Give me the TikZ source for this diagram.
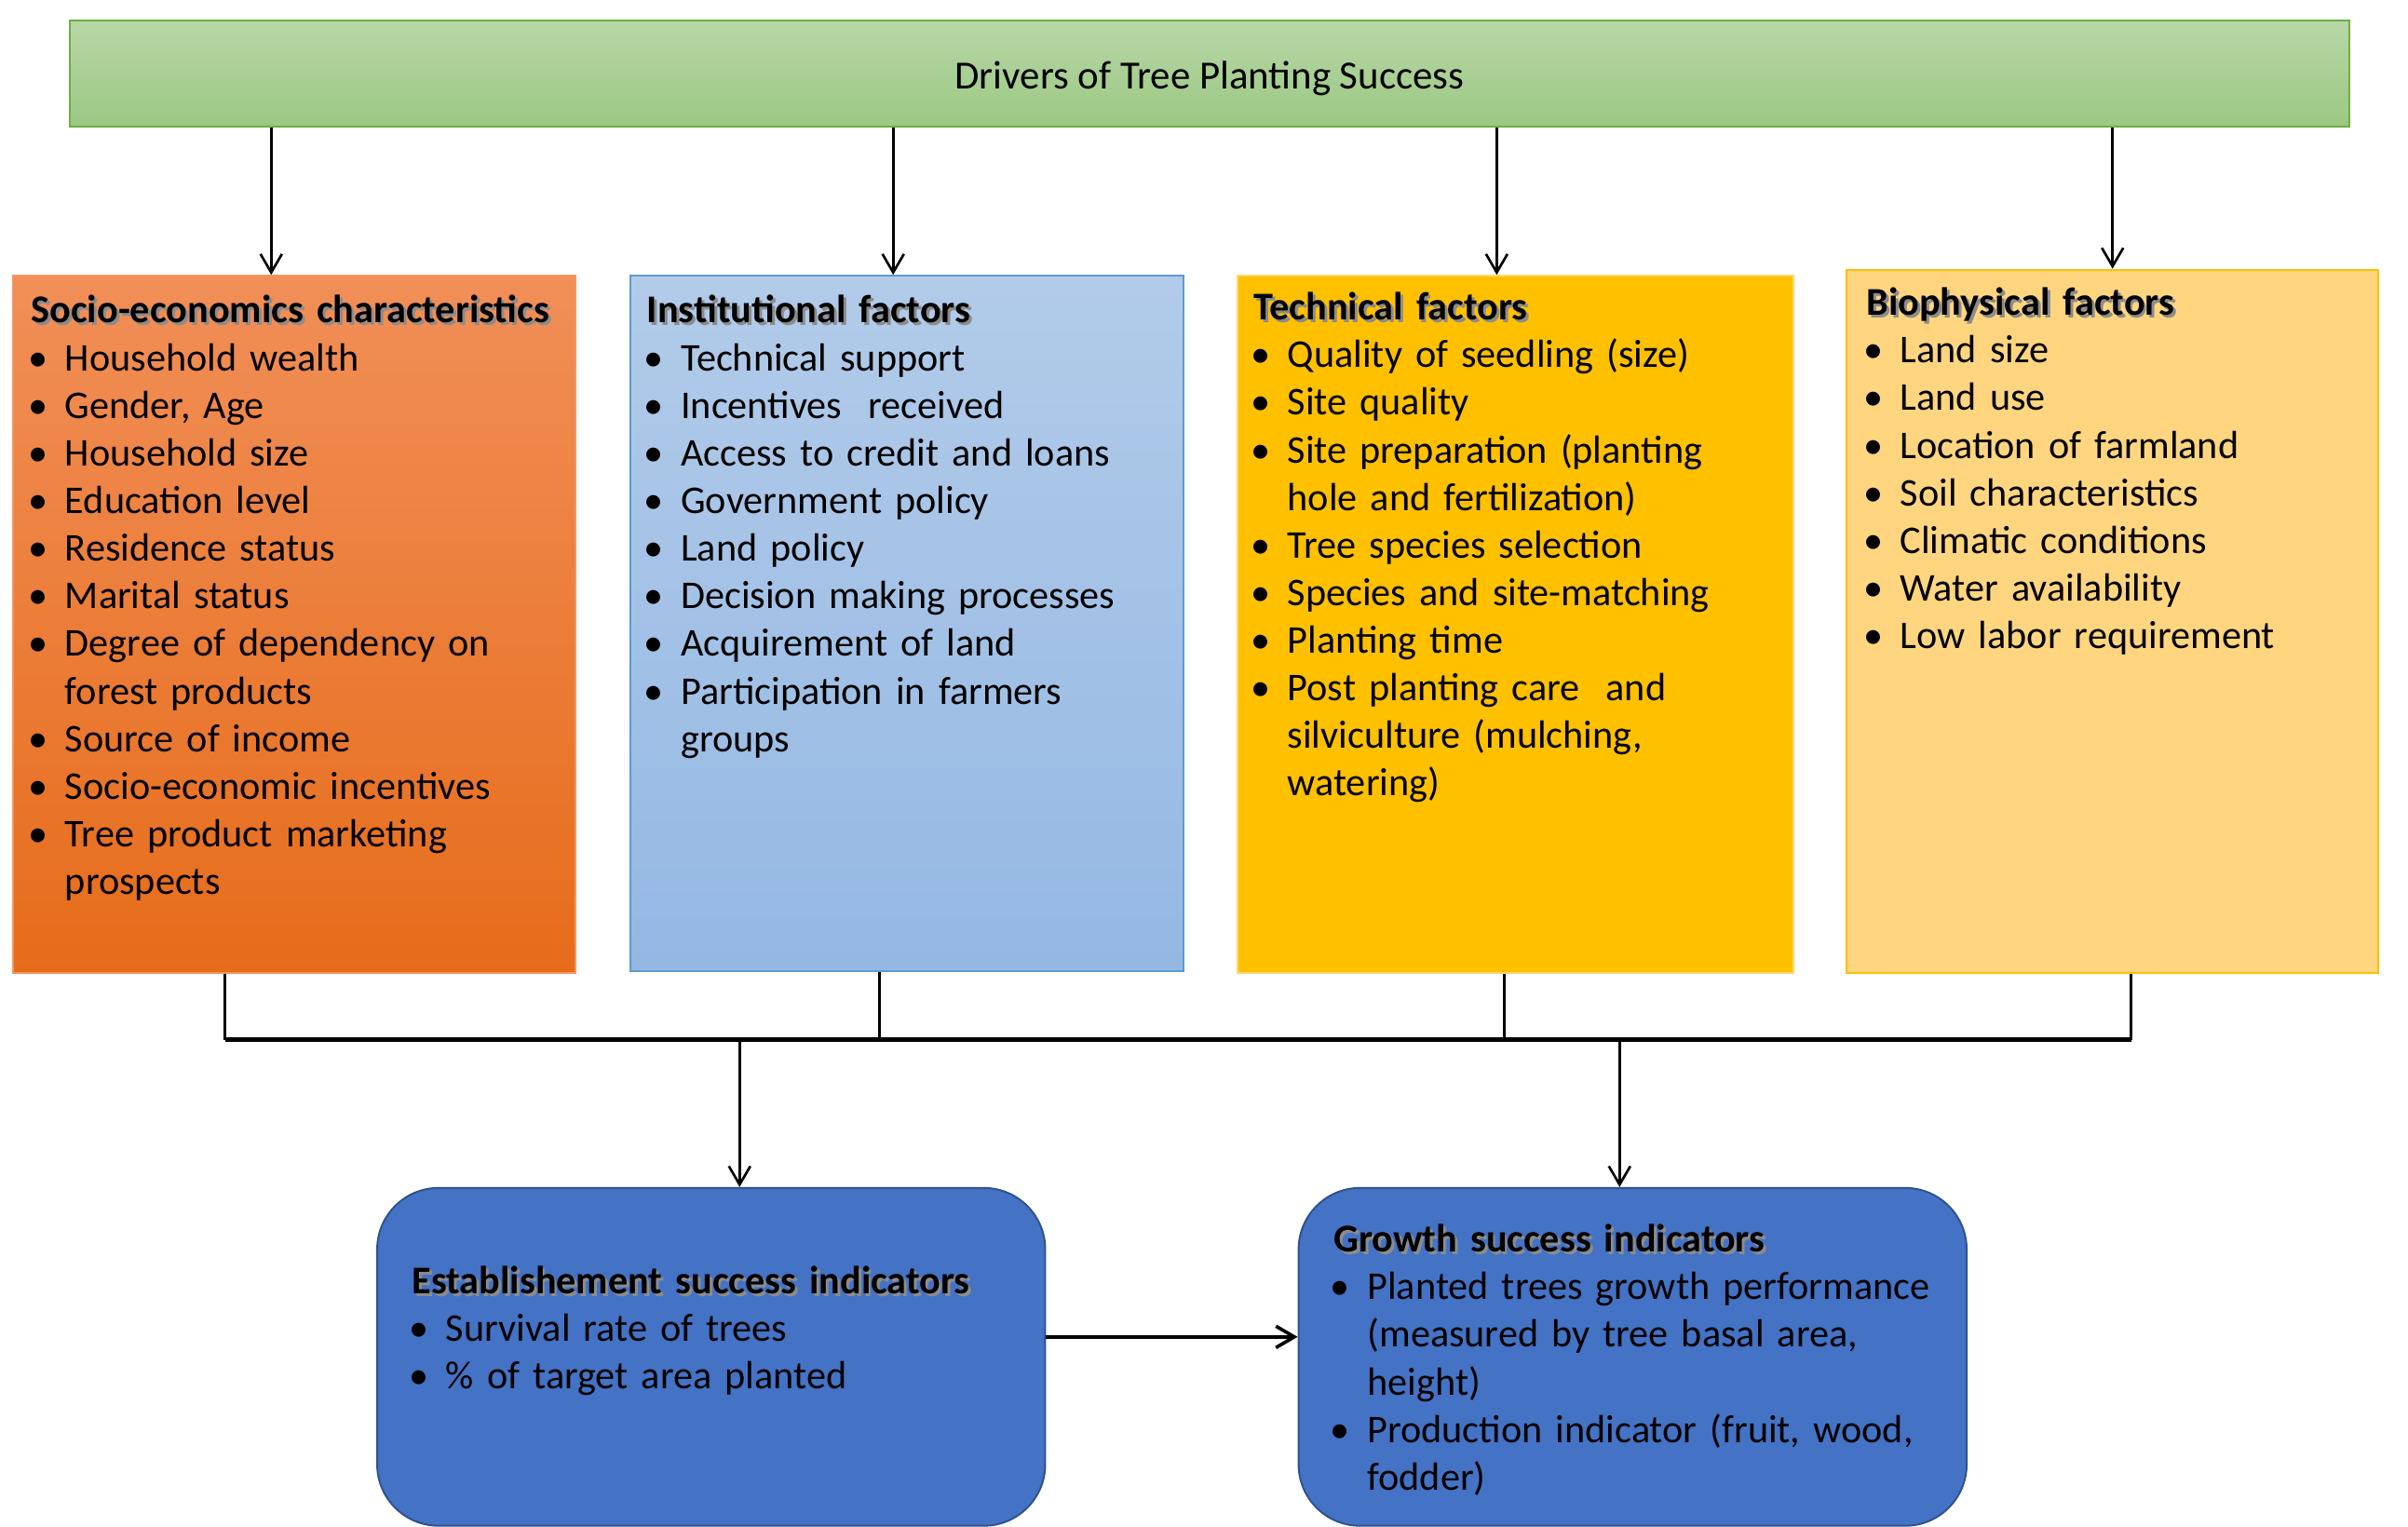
\documentclass[tikz,border=0pt]{standalone}
\usepackage{fontspec}
\setmainfont{Carlito}
\usetikzlibrary{arrows.meta,positioning}

\definecolor{drvTop}{RGB}{184,215,167}
\definecolor{drvBottom}{RGB}{155,200,130}
\definecolor{drvLine}{RGB}{112,173,71}
\definecolor{socTop}{RGB}{241,143,88}
\definecolor{socBottom}{RGB}{230,108,26}
\definecolor{socLine}{RGB}{240,150,100}
\definecolor{insTop}{RGB}{178,203,233}
\definecolor{insBottom}{RGB}{148,184,227}
\definecolor{insLine}{RGB}{91,155,213}
\definecolor{tecFill}{RGB}{255,192,0}
\definecolor{tecLine}{RGB}{255,215,110}
\definecolor{bioFill}{RGB}{255,213,128}
\definecolor{bioLine}{RGB}{255,192,0}
\definecolor{indFill}{RGB}{68,114,196}
\definecolor{indLine}{RGB}{47,82,143}

\setlength{\parskip}{0pt}
\setlength{\parindent}{0pt}
% bold heading with a soft drop shadow
\newcommand{\hdr}[1]{\noindent\makebox[0pt][l]{\hspace{0.9pt}\raisebox{-0.9pt}{\textcolor{black!45}{\bfseries #1}}}{\bfseries #1}\par}
% bullet item, wrapped lines hang under the text
\newcommand{\bitem}[1]{\noindent\hangindent=11pt\relax\hangafter=1\relax\makebox[11pt][l]{\hspace{-1pt}\textbullet}#1\par}
\newcommand{\bodyfont}{\fontsize{12.8pt}{15.5pt}\selectfont}
\newcommand{\titlefont}{\fontsize{13pt}{15pt}\selectfont}

\begin{document}
\begin{tikzpicture}[x=0.5pt,y=-0.5pt,
    box/.style={draw, line width=0.6pt, anchor=north west, inner sep=0pt},
    txt/.style={anchor=north west, inner sep=0pt, text width=#1, align=left, font=\bodyfont},
    arr/.style={-{Straight Barb[length=6pt,width=7pt]}, line width=0.8pt},
    link/.style={line width=0.8pt}]

    \useasboundingbox[fill=white] (0,0) rectangle (1568,994);

    % top driver bar
    \node[box, draw=drvLine, top color=drvTop, bottom color=drvBottom,
        minimum width=742pt, minimum height=34.5pt, font=\titlefont,
        text height=11pt, text depth=1pt] (drivers) at (45,13)
        {Drivers of Tree Planting Success};

    % factor groups
    \node[box, draw=socLine, top color=socTop, bottom color=socBottom,
        minimum width=183pt, minimum height=227pt] (socio) at (8,179) {};
    \node[box, draw=insLine, top color=insTop, bottom color=insBottom,
        minimum width=180pt, minimum height=226.5pt] (inst) at (410,179) {};
    \node[box, draw=tecLine, fill=tecFill,
        minimum width=181pt, minimum height=227pt] (tech) at (805,179) {};
    \node[box, draw=bioLine, fill=bioFill,
        minimum width=173pt, minimum height=229pt] (bio) at (1202,175) {};

    \node[txt=180pt] (socioT) at ([shift={(6pt,-6.5pt)}]socio.north west) {%
        \hdr{Socio-economics characteristics}
        \bitem{Household wealth}
        \bitem{Gender, Age}
        \bitem{Household size}
        \bitem{Education level}
        \bitem{Residence status}
        \bitem{Marital status}
        \bitem{Degree of dependency on\newline forest products}
        \bitem{Source of income}
        \bitem{Socio-economic incentives}
        \bitem{Tree product marketing\newline prospects}};
    \node[txt=176pt] (instT) at ([shift={(5.5pt,-6.5pt)}]inst.north west) {%
        \hdr{Institutional factors}
        \bitem{Technical support}
        \bitem{Incentives\ \ received}
        \bitem{Access to credit and loans}
        \bitem{Government policy}
        \bitem{Land policy}
        \bitem{Decision making processes}
        \bitem{Acquirement of land}
        \bitem{Participation in farmers\newline groups}};
    \node[txt=178pt] (techT) at ([shift={(5.5pt,-5.5pt)}]tech.north west) {%
        \hdr{Technical factors}
        \bitem{Quality of seedling (size)}
        \bitem{Site quality}
        \bitem{Site preparation (planting\newline hole and fertilization)}
        \bitem{Tree species selection}
        \bitem{Species and site-matching}
        \bitem{Planting time}
        \bitem{Post planting care\ \ and\newline silviculture (mulching,\newline watering)}};
    \node[txt=170pt] (bioT) at ([shift={(6.5pt,-6pt)}]bio.north west) {%
        \hdr{Biophysical factors}
        \bitem{Land size}
        \bitem{Land use}
        \bitem{Location of farmland}
        \bitem{Soil characteristics}
        \bitem{Climatic conditions}
        \bitem{Water availability}
        \bitem{Low labor requirement}};

    % success indicators
    \node[box, draw=indLine, fill=indFill, rounded corners=20pt,
        minimum width=217.5pt, minimum height=110pt] (estab) at (245,773) {};
    \node[box, draw=indLine, fill=indFill, rounded corners=20pt,
        minimum width=217.5pt, minimum height=110pt] (growth) at (845,773) {};

    \node[txt=200pt] (estabT) at ([shift={(11.5pt,-25.5pt)}]estab.north west) {%
        \hdr{Establishement success indicators}
        \bitem{Survival rate of trees}
        \bitem{\% of target area planted}};
    \node[txt=205pt] (growthT) at ([shift={(11.5pt,-12pt)}]growth.north west) {%
        \hdr{Growth success indicators}
        \bitem{Planted trees growth performance\newline (measured by tree basal area,\newline height)}
        \bitem{Production indicator (fruit, wood,\newline fodder)}};

    % drivers down to each group
    \draw[arr] ([xshift=-7.5pt]socio.north |- drivers.south) -- ([xshift=-7.5pt]socio.north);
    \draw[arr] ([xshift=-4.5pt]inst.north |- drivers.south) -- ([xshift=-4.5pt]inst.north);
    \draw[arr] ([xshift=-6pt]tech.north |- drivers.south) -- ([xshift=-6pt]tech.north);
    \draw[arr] (bio.north |- drivers.south) -- (bio.north);

    % groups join on one line
    \coordinate (bus) at (0,677);
    \draw[link] ([xshift=-22.5pt]socio.south) -- ([xshift=-22.5pt]socio.south |- bus);
    \draw[link] ([xshift=-9pt]inst.south) -- ([xshift=-9pt]inst.south |- bus);
    \draw[link] ([xshift=-3.5pt]tech.south) -- ([xshift=-3.5pt]tech.south |- bus);
    \draw[link] ([xshift=6pt]bio.south) -- ([xshift=6pt]bio.south |- bus);
    \draw[line width=1.6pt] ([xshift=-22.5pt]socio.south |- bus) -- ([xshift=6pt]bio.south |- bus);

    % down to the indicators
    \draw[arr] ([xshift=9.25pt]estab.north |- bus) -- ([xshift=9.25pt]estab.north);
    \draw[arr] ([xshift=-4.25pt]growth.north |- bus) -- ([xshift=-4.25pt]growth.north);
    \draw[arr, line width=1.1pt] ([yshift=6.5pt]estab.east) -- ([yshift=6.5pt]growth.west);
\end{tikzpicture}
\end{document}
